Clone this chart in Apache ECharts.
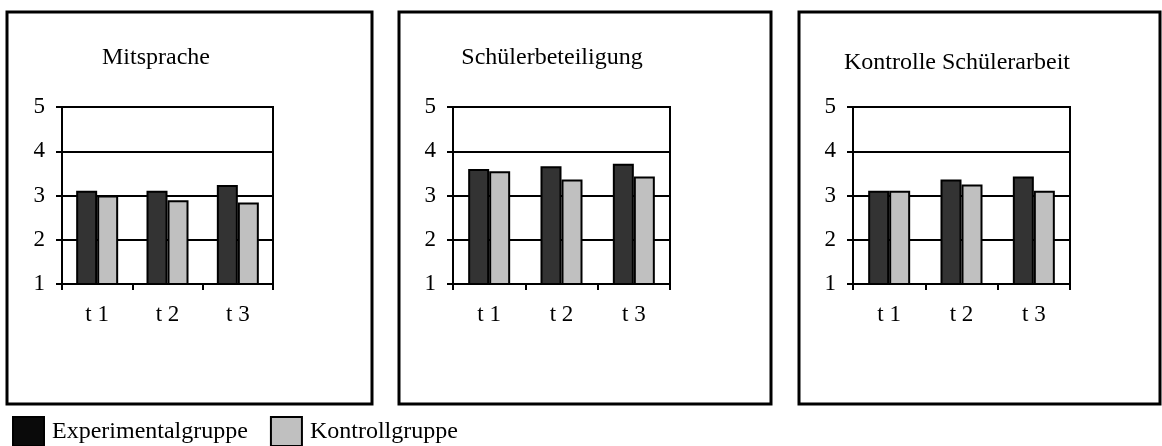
<!DOCTYPE html>
<html>
<head>
<meta charset="utf-8">
<script src="https://cdn.jsdelivr.net/npm/echarts@6/dist/echarts.min.js"></script>
<style>
html,body{margin:0;padding:0;background:#fff;}
#c{width:1162px;height:446px;}
</style>
</head>
<body>
<div id="c"></div>
<script>
const categories = ['t 1', 't 2', 't 3'];
const panelTitles = ['Mitsprache', 'Schülerbeteiligung', 'Kontrolle Schülerarbeit'];
const seriesNames = ['Experimentalgruppe', 'Kontrollgruppe'];
const expMitsprache = [3.11, 3.11, 3.24];
const ctrlMitsprache = [3.0, 2.89, 2.84];
const expBeteiligung = [3.6, 3.66, 3.72];
const ctrlBeteiligung = [3.55, 3.36, 3.43];
const expKontrolle = [3.11, 3.36, 3.43];
const ctrlKontrolle = [3.11, 3.25, 3.11];
const yMin = 1, yMax = 5, yInterval = 1;

const FONT = '"Liberation Serif", "Times New Roman", serif';
const DARK = '#333333', LIGHT = '#c0c0c0';

const panels = [
  {grid: {left: 62, top: 107, width: 211, height: 177}, box: [7, 12, 365, 392], title: [156, 58], exp: expMitsprache, ctrl: ctrlMitsprache},
  {grid: {left: 453, top: 107, width: 217, height: 177}, box: [399, 12, 372, 392], title: [552, 58], exp: expBeteiligung, ctrl: ctrlBeteiligung},
  {grid: {left: 853, top: 107, width: 217, height: 177}, box: [799, 12, 361, 392], title: [957, 63], exp: expKontrolle, ctrl: ctrlKontrolle}
];

const grids = [], xAxes = [], yAxes = [], series = [], graphics = [];
panels.forEach((p, i) => {
  grids.push(Object.assign({show: true, borderColor: '#000', borderWidth: 2, backgroundColor: 'transparent'}, p.grid));
  xAxes.push({
    type: 'category', gridIndex: i, data: categories,
    axisLine: {lineStyle: {color: '#000', width: 2}},
    axisTick: {show: true, length: 6, lineStyle: {color: '#000', width: 2}},
    axisLabel: {color: '#000', fontFamily: FONT, fontSize: 23, margin: 19},
    splitLine: {show: false}
  });
  yAxes.push({
    type: 'value', gridIndex: i, min: yMin, max: yMax, interval: yInterval,
    axisLine: {show: true, lineStyle: {color: '#000', width: 2}},
    axisTick: {show: true, length: 6, lineStyle: {color: '#000', width: 2}},
    axisLabel: {color: '#000', fontFamily: FONT, fontSize: 23, margin: 17},
    splitLine: {show: true, lineStyle: {color: '#000', width: 2}}
  });
  series.push({
    name: seriesNames[0], type: 'bar', xAxisIndex: i, yAxisIndex: i, data: p.exp,
    barWidth: 21, barGap: '0%',
    itemStyle: {color: DARK, borderColor: '#000', borderWidth: 2},
    emphasis: {disabled: true}, animation: false
  });
  series.push({
    name: seriesNames[1], type: 'bar', xAxisIndex: i, yAxisIndex: i, data: p.ctrl,
    barWidth: 21, barGap: '0%',
    itemStyle: {color: LIGHT, borderColor: '#000', borderWidth: 2},
    emphasis: {disabled: true}, animation: false
  });
  graphics.push({
    type: 'rect', silent: true, z: 0,
    shape: {x: p.box[0], y: p.box[1], width: p.box[2], height: p.box[3]},
    style: {fill: 'none', stroke: '#000', lineWidth: 3}
  });
  graphics.push({
    type: 'text', silent: true, x: p.title[0], y: p.title[1],
    style: {text: panelTitles[i], font: '24px ' + FONT, fill: '#000', align: 'center', verticalAlign: 'middle'}
  });
});

const chart = echarts.init(document.getElementById('c'), null, {renderer: 'canvas'});
chart.setOption({
  animation: false,
  backgroundColor: '#fff',
  grid: grids,
  xAxis: xAxes,
  yAxis: yAxes,
  series: series,
  graphic: graphics,
  legend: {
    left: 7, top: 411, itemWidth: 31, itemHeight: 29, itemGap: 22,
    icon: 'rect',
    selectedMode: false,
    textStyle: {color: '#000', fontFamily: FONT, fontSize: 24, padding: [0, 0, 0, 3]},
    data: [
      {name: seriesNames[0], itemStyle: {color: '#0a0a0a', borderColor: '#000', borderWidth: 2}},
      {name: seriesNames[1], itemStyle: {color: LIGHT, borderColor: '#000', borderWidth: 2}}
    ]
  }
});
</script>
</body>
</html>
